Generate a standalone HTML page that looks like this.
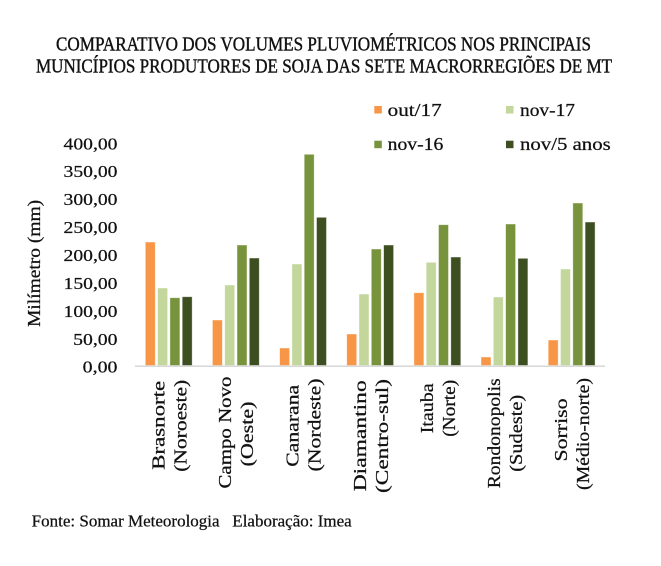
<!DOCTYPE html>
<html>
<head>
<meta charset="utf-8">
<style>
  html, body { margin: 0; padding: 0; background: #ffffff; }
  svg { display: block; }
  text { font-family: "Liberation Serif", "DejaVu Serif", serif; fill: #111111; stroke: #111111; stroke-width: 0.25px; }
</style>
</head>
<body>
<svg width="661" height="566" viewBox="0 0 661 566" xmlns="http://www.w3.org/2000/svg">
  <rect x="0" y="0" width="661" height="566" fill="#ffffff"/>

  <!-- Title -->
  <text x="56" y="50.7" font-size="20" style="stroke-width:0.4px" textLength="535" lengthAdjust="spacingAndGlyphs">COMPARATIVO DOS VOLUMES PLUVIOMÉTRICOS NOS PRINCIPAIS</text>
  <text x="36" y="72.7" font-size="20" style="stroke-width:0.4px" textLength="576" lengthAdjust="spacingAndGlyphs">MUNICÍPIOS PRODUTORES DE SOJA DAS SETE MACRORREGIÕES DE MT</text>

  <!-- Legend -->
  <rect x="374.3" y="106" width="7.5" height="7.5" fill="#F79646"/>
  <text x="387.7" y="116" font-size="17.5" textLength="54" lengthAdjust="spacingAndGlyphs">out/17</text>
  <rect x="506" y="106" width="7.5" height="7.5" fill="#C3D69B"/>
  <text x="520" y="116" font-size="17.5" textLength="55" lengthAdjust="spacingAndGlyphs">nov-17</text>
  <rect x="374.3" y="140.7" width="7.5" height="7.5" fill="#77933C"/>
  <text x="387.7" y="150" font-size="17.5" textLength="55.6" lengthAdjust="spacingAndGlyphs">nov-16</text>
  <rect x="506" y="140.7" width="7.5" height="7.5" fill="#3D4F21"/>
  <text x="520" y="150" font-size="17.5" textLength="90.7" lengthAdjust="spacingAndGlyphs">nov/5 anos</text>

  <!-- Y axis title -->
  <text transform="translate(40,263.4) rotate(-90)" text-anchor="middle" font-size="18" textLength="127" lengthAdjust="spacingAndGlyphs">Milímetro (mm)</text>

  <!-- Y tick labels -->
  <g font-size="17" text-anchor="end">
    <text x="117.5" y="149.3" textLength="54" lengthAdjust="spacingAndGlyphs">400,00</text>
    <text x="117.5" y="177.2" textLength="54" lengthAdjust="spacingAndGlyphs">350,00</text>
    <text x="117.5" y="205.2" textLength="54" lengthAdjust="spacingAndGlyphs">300,00</text>
    <text x="117.5" y="233.1" textLength="54" lengthAdjust="spacingAndGlyphs">250,00</text>
    <text x="117.5" y="261.0" textLength="54" lengthAdjust="spacingAndGlyphs">200,00</text>
    <text x="117.5" y="288.9" textLength="54" lengthAdjust="spacingAndGlyphs">150,00</text>
    <text x="117.5" y="316.9" textLength="54" lengthAdjust="spacingAndGlyphs">100,00</text>
    <text x="117.5" y="344.8" textLength="44.4" lengthAdjust="spacingAndGlyphs">50,00</text>
    <text x="117.5" y="372.7" textLength="34.8" lengthAdjust="spacingAndGlyphs">0,00</text>
  </g>

  <!-- Bars -->
  <g stroke="#ffffff" stroke-opacity="0.55" stroke-width="0.8">
    <!-- G1 Brasnorte -->
    <rect x="145.3" y="242" width="10" height="123.5" fill="#F79646"/>
    <rect x="157.6" y="288" width="10" height="77.5" fill="#C3D69B"/>
    <rect x="169.9" y="297.7" width="10" height="67.8" fill="#77933C"/>
    <rect x="182.2" y="296.7" width="10" height="68.8" fill="#3D4F21"/>
    <!-- G2 Campo Novo -->
    <rect x="212.4" y="320" width="10" height="45.5" fill="#F79646"/>
    <rect x="224.7" y="285" width="10" height="80.5" fill="#C3D69B"/>
    <rect x="237.0" y="245" width="10" height="120.5" fill="#77933C"/>
    <rect x="249.3" y="258" width="10" height="107.5" fill="#3D4F21"/>
    <!-- G3 Canarana -->
    <rect x="279.6" y="348" width="10" height="17.5" fill="#F79646"/>
    <rect x="291.9" y="264" width="10" height="101.5" fill="#C3D69B"/>
    <rect x="304.2" y="154.3" width="10" height="211.2" fill="#77933C"/>
    <rect x="316.5" y="217.3" width="10" height="148.2" fill="#3D4F21"/>
    <!-- G4 Diamantino -->
    <rect x="346.7" y="334" width="10" height="31.5" fill="#F79646"/>
    <rect x="359.0" y="294" width="10" height="71.5" fill="#C3D69B"/>
    <rect x="371.3" y="249" width="10" height="116.5" fill="#77933C"/>
    <rect x="383.6" y="245" width="10" height="120.5" fill="#3D4F21"/>
    <!-- G5 Itauba -->
    <rect x="413.9" y="292.7" width="10" height="72.8" fill="#F79646"/>
    <rect x="426.2" y="262.3" width="10" height="103.2" fill="#C3D69B"/>
    <rect x="438.5" y="224.7" width="10" height="140.8" fill="#77933C"/>
    <rect x="450.8" y="257" width="10" height="108.5" fill="#3D4F21"/>
    <!-- G6 Rondonopolis -->
    <rect x="481.0" y="357" width="10" height="8.5" fill="#F79646"/>
    <rect x="493.3" y="297" width="10" height="68.5" fill="#C3D69B"/>
    <rect x="505.6" y="224" width="10" height="141.5" fill="#77933C"/>
    <rect x="517.9" y="258.3" width="10" height="107.2" fill="#3D4F21"/>
    <!-- G7 Sorriso -->
    <rect x="548.2" y="340" width="10" height="25.5" fill="#F79646"/>
    <rect x="560.5" y="269" width="10" height="96.5" fill="#C3D69B"/>
    <rect x="572.8" y="203" width="10" height="162.5" fill="#77933C"/>
    <rect x="585.1" y="222" width="10" height="143.5" fill="#3D4F21"/>
  </g>

  <!-- X axis line -->
  <line x1="135" y1="366.2" x2="605" y2="366.2" stroke="#d9d9d9" stroke-width="1.7"/>

  <!-- Category labels -->
  <g font-size="18" text-anchor="middle">
    <text transform="translate(164.5,425.3) rotate(-90)" textLength="89" lengthAdjust="spacingAndGlyphs">Brasnorte</text>
    <text transform="translate(186.5,425.8) rotate(-90)" textLength="92" lengthAdjust="spacingAndGlyphs">(Noroeste)</text>

    <text transform="translate(231.2,432.5) rotate(-90)" textLength="112" lengthAdjust="spacingAndGlyphs">Campo Novo</text>
    <text transform="translate(253.2,434) rotate(-90)" textLength="65" lengthAdjust="spacingAndGlyphs">(Oeste)</text>

    <text transform="translate(298.7,425.8) rotate(-90)" textLength="82" lengthAdjust="spacingAndGlyphs">Canarana</text>
    <text transform="translate(320.7,425) rotate(-90)" textLength="93" lengthAdjust="spacingAndGlyphs">(Nordeste)</text>

    <text transform="translate(366,435.8) rotate(-90)" textLength="111" lengthAdjust="spacingAndGlyphs">Diamantino</text>
    <text transform="translate(388,436) rotate(-90)" textLength="114" lengthAdjust="spacingAndGlyphs">(Centro-sul)</text>

    <text transform="translate(433.2,408.3) rotate(-90)" textLength="50" lengthAdjust="spacingAndGlyphs">Itauba</text>
    <text transform="translate(455.2,408.3) rotate(-90)" textLength="57" lengthAdjust="spacingAndGlyphs">(Norte)</text>

    <text transform="translate(500.2,433.3) rotate(-90)" textLength="110" lengthAdjust="spacingAndGlyphs">Rondonopolis</text>
    <text transform="translate(522.2,433.3) rotate(-90)" textLength="77" lengthAdjust="spacingAndGlyphs">(Sudeste)</text>

    <text transform="translate(567,430) rotate(-90)" textLength="63" lengthAdjust="spacingAndGlyphs">Sorriso</text>
    <text transform="translate(589,434) rotate(-90)" textLength="112" lengthAdjust="spacingAndGlyphs">(Médio-norte)</text>
  </g>

  <!-- Footer -->
  <text x="31.7" y="526.7" font-size="16.5" textLength="320" lengthAdjust="spacingAndGlyphs" xml:space="preserve">Fonte: Somar Meteorologia   Elaboração: Imea</text>
</svg>
</body>
</html>
